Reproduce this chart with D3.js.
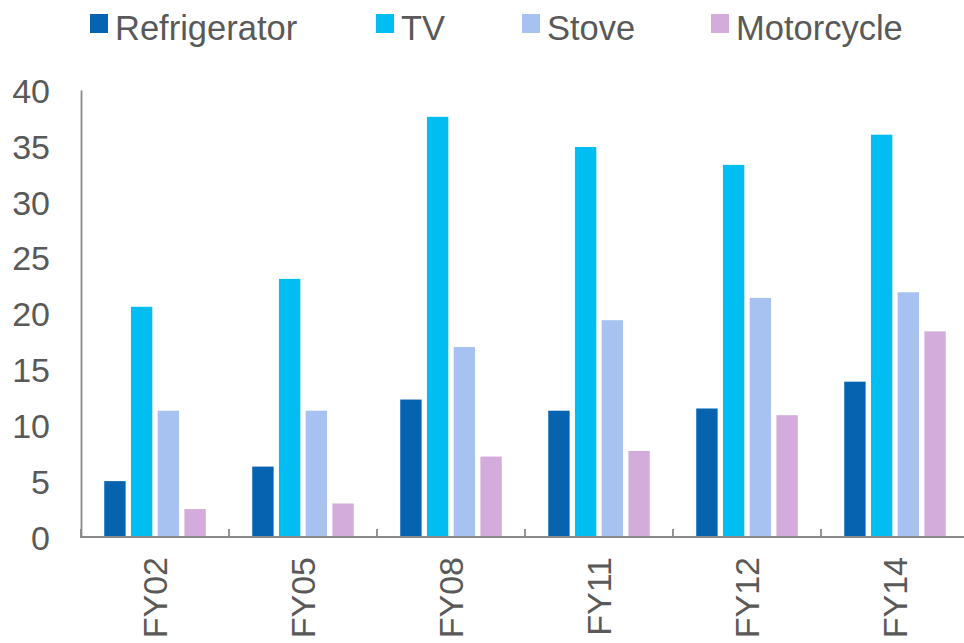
<!DOCTYPE html>
<html>
<head>
<meta charset="utf-8">
<script src="https://cdn.jsdelivr.net/npm/d3@7"></script>
<style>
    body { margin: 0; background: #fff; }
    text { font-family: "Liberation Sans", Arial, sans-serif; fill: #595959; }
</style>
</head>
<body>
<div id="chart"></div>
<script>
// Chart data
const years = ["FY02", "FY05", "FY08", "FY11", "FY12", "FY14"];
const seriesNames = ["Refrigerator", "TV", "Stove", "Motorcycle"];
const refrigerator = [5.0, 6.3, 12.3, 11.3, 11.5, 13.9];
const tv = [20.6, 23.1, 37.6, 34.9, 33.3, 36.0];
const stove = [11.3, 11.3, 17.0, 19.4, 21.4, 21.9];
const motorcycle = [2.5, 3.0, 7.2, 7.7, 10.9, 18.4];
const yTicks = [0, 5, 10, 15, 20, 25, 30, 35, 40];
const colors = ["#0563b0", "#00bdf2", "#a7c2f0", "#d3acdb"];

const values = [refrigerator, tv, stove, motorcycle];
const rows = years.map((y, i) => ({year: y, vals: values.map(v => v[i])}));

const width = 964, height = 643;
const axisX = 81, baseY = 537;

const svg = d3.select("#chart").append("svg")
    .attr("width", width)
    .attr("height", height);

// Scales
const x0 = d3.scaleBand().domain(years).range([axisX, axisX + 148 * years.length]).padding(0);
const x1 = d3.scaleBand().domain(seriesNames).range([0, x0.bandwidth()])
    .paddingInner(0.2).paddingOuter(0.87);
const y = d3.scaleLinear().domain([0, 40]).range([baseY, 90]);

// Y axis (line + labels, no tick marks)
const yAxis = svg.append("g")
    .attr("transform", "translate(" + axisX + ",0)")
    .call(d3.axisLeft(y).tickValues(yTicks).tickSize(0).tickPadding(31));
yAxis.select(".domain").attr("stroke", "#898989").attr("stroke-width", 1.8);
yAxis.selectAll("text")
    .style("font-size", "34px")
    .attr("fill", "#595959")
    .attr("dy", "0.36em");

// Bars
const groups = svg.selectAll(".grp")
    .data(rows)
    .enter().append("g")
    .attr("class", "grp")
    .attr("transform", d => "translate(" + x0(d.year) + ",0)");

groups.selectAll("rect")
    .data(d => d.vals.map((v, k) => ({name: seriesNames[k], value: v, k: k})))
    .enter().append("rect")
    .attr("x", d => x1(d.name))
    .attr("width", x1.bandwidth())
    .attr("y", d => y(d.value))
    .attr("height", d => baseY - y(d.value))
    .attr("fill", d => colors[d.k]);

// X axis baseline with labels at band centres
const xAxis = svg.append("g")
    .attr("transform", "translate(0," + baseY + ")")
    .call(d3.axisBottom(x0).tickSize(0).tickPadding(0));
xAxis.select(".domain").remove();
xAxis.append("line")
    .attr("x1", axisX - 1).attr("x2", width)
    .attr("stroke", "#898989").attr("stroke-width", 1.8);
xAxis.selectAll(".tick text")
    .style("font-size", "34px")
    .attr("fill", "#595959")
    .attr("text-anchor", "end")
    .attr("transform", "rotate(-90)")
    .attr("x", -20)
    .attr("y", 0)
    .attr("dy", "0.36em");

// Small tick marks between the groups
xAxis.selectAll(".sep")
    .data(years)
    .enter().append("line")
    .attr("class", "sep")
    .attr("x1", d => x0(d)).attr("x2", d => x0(d))
    .attr("y1", 0).attr("y2", -8)
    .attr("stroke", "#898989").attr("stroke-width", 1.8);

// Legend
const legendX = [90, 376, 522, 711];
const legend = svg.selectAll(".legend")
    .data(seriesNames)
    .enter().append("g")
    .attr("class", "legend")
    .attr("transform", (d, i) => "translate(" + legendX[i] + ",14)");
legend.append("rect")
    .attr("width", 18).attr("height", 19)
    .attr("fill", (d, i) => colors[i]);
legend.append("text")
    .attr("x", 25)
    .attr("y", 26)
    .style("font-size", "34.5px")
    .text(d => d);
</script>
</body>
</html>
